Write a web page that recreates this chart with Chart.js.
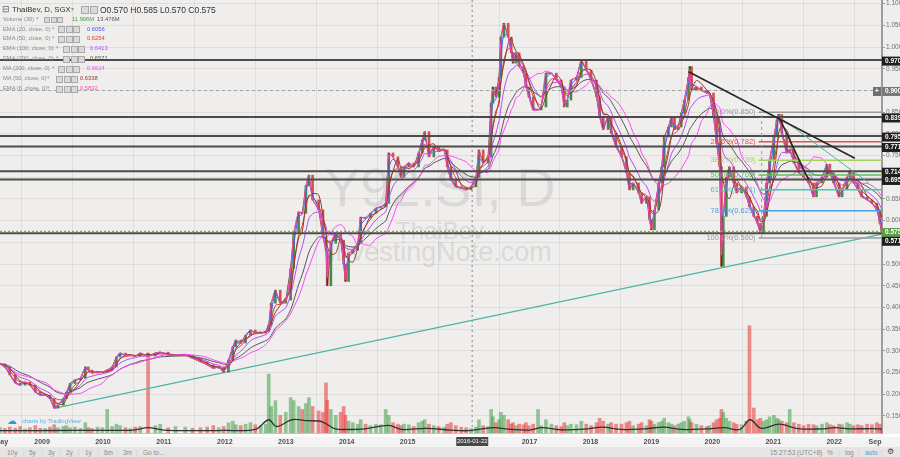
<!DOCTYPE html>
<html>
<head>
<meta charset="utf-8">
<script src="https://cdn.jsdelivr.net/npm/chart.js@4.4.0/dist/chart.umd.min.js"></script>
<style>
  html, body { margin: 0; padding: 0; }
  body { width: 900px; height: 457px; overflow: hidden; position: relative; background: #efeeed;
         font-family: "Liberation Sans", Arial, sans-serif; }
  .abs { position: absolute; white-space: nowrap; }
  #bgWhite { left: 0; top: 434px; width: 900px; height: 3px; background: #fff; }
  #bgAxis { left: 0; top: 437px; width: 900px; height: 10px; background: #f3f3f3; }
  #toolbar { left: 0; top: 447px; width: 900px; height: 10px; background: #e5e5e5; font-size: 6.5px; color: #8c8c8c; }
  #toolbar span { position: absolute; top: 1.5px; }
  #toolbar .sep { color: #cfcfcf; }
  .wm { left: 240px; width: 400px; text-align: center; color: #dad9d8; line-height: 1; }
  #chartBox { left: 0; top: 0; width: 900px; height: 447px; }
  #legend div { position: absolute; white-space: nowrap; line-height: 1; }
  .ic { position: absolute; width: 5px; height: 5px; border: 1px solid #a9a9a9; background: #d9d9d9; }
</style>
</head>
<body>
<div id="bgWhite" class="abs"></div>
<div id="bgAxis" class="abs"></div>
<div class="abs wm" style="top:160px;font-size:54px;">Y92.SI, D</div>
<div class="abs wm" style="top:219px;font-size:24px;">ThaiBev</div>
<div class="abs wm" style="top:239px;font-size:27px;">InvestingNote.com</div>
<div id="chartBox" class="abs"><canvas id="myChart" width="900" height="447"></canvas></div>
<div id="legend" class="abs" style="left:0;top:0;"></div>
<div class="abs" style="left:7px;top:415px;font-size:10px;color:#2f9ae0;">&#9729;</div>
<div class="abs" style="left:22px;top:418px;font-size:6px;color:#5aaee6;">charts by TradingView</div>
<div id="toolbar" class="abs"></div>

<script>
// Daily closes of Y92.SI (decimal year, SGD)
const dates = [
  2008.31, 2008.39, 2008.47, 2008.56, 2008.64, 2008.72, 2008.80, 2008.89, 2008.97, 2009.05,
  2009.13, 2009.20, 2009.26, 2009.35, 2009.40, 2009.46, 2009.54, 2009.63, 2009.71, 2009.76,
  2009.82, 2009.91, 2009.99, 2010.07, 2010.15, 2010.22, 2010.28, 2010.37, 2010.45, 2010.53,
  2010.61, 2010.74, 2010.86, 2010.94, 2011.07, 2011.19, 2011.35, 2011.47, 2011.60, 2011.71,
  2011.81, 2011.90, 2011.98, 2012.06, 2012.13, 2012.18, 2012.26, 2012.34, 2012.42, 2012.50,
  2012.59, 2012.67, 2012.72, 2012.76, 2012.83, 2012.91, 2013.00, 2013.08, 2013.13, 2013.21,
  2013.27, 2013.33, 2013.38, 2013.44, 2013.54, 2013.61, 2013.66, 2013.68, 2013.74, 2013.82,
  2013.90, 2013.95, 2013.98, 2014.03, 2014.10, 2014.18, 2014.23, 2014.31, 2014.39, 2014.48,
  2014.56, 2014.64, 2014.69, 2014.76, 2014.84, 2014.89, 2014.94, 2015.02, 2015.10, 2015.18,
  2015.24, 2015.28, 2015.35, 2015.43, 2015.51, 2015.60, 2015.65, 2015.71, 2015.79, 2015.88,
  2015.96, 2016.04, 2016.12, 2016.17, 2016.24, 2016.32, 2016.37, 2016.40, 2016.45, 2016.50,
  2016.53, 2016.58, 2016.65, 2016.70, 2016.73, 2016.78, 2016.83, 2016.90, 2016.94, 2016.99,
  2017.06, 2017.14, 2017.19, 2017.27, 2017.36, 2017.44, 2017.52, 2017.57, 2017.62, 2017.68,
  2017.77, 2017.85, 2017.93, 2018.01, 2018.10, 2018.15, 2018.21, 2018.29, 2018.34, 2018.42,
  2018.51, 2018.59, 2018.64, 2018.70, 2018.79, 2018.84, 2018.92, 2018.97, 2019.00, 2019.05,
  2019.12, 2019.17, 2019.21, 2019.28, 2019.33, 2019.38, 2019.44, 2019.49, 2019.54, 2019.61,
  2019.63, 2019.66, 2019.74, 2019.82, 2019.91, 2019.95, 2020.02, 2020.07, 2020.12, 2020.15,
  2020.18, 2020.23, 2020.28, 2020.35, 2020.40, 2020.48, 2020.56, 2020.61, 2020.68, 2020.74,
  2020.79, 2020.84, 2020.89, 2020.94, 2021.01, 2021.06, 2021.09, 2021.14, 2021.22, 2021.27,
  2021.34, 2021.42, 2021.50, 2021.58, 2021.66, 2021.71, 2021.80, 2021.88, 2021.93, 2021.99,
  2022.08, 2022.13, 2022.21, 2022.26, 2022.32, 2022.39, 2022.45, 2022.54, 2022.62, 2022.70,
  2022.75, 2022.78
];
const closes = [
  0.270, 0.263, 0.245, 0.226, 0.221, 0.228, 0.221, 0.205, 0.198, 0.198,
  0.190, 0.168, 0.175, 0.190, 0.205, 0.225, 0.233, 0.237, 0.263, 0.256,
  0.249, 0.251, 0.251, 0.256, 0.263, 0.286, 0.295, 0.290, 0.290, 0.288,
  0.295, 0.288, 0.295, 0.297, 0.290, 0.290, 0.290, 0.283, 0.275, 0.268,
  0.260, 0.263, 0.251, 0.279, 0.309, 0.325, 0.318, 0.336, 0.348, 0.341,
  0.341, 0.345, 0.360, 0.410, 0.440, 0.410, 0.417, 0.490, 0.570, 0.620,
  0.617, 0.680, 0.705, 0.648, 0.625, 0.562, 0.532, 0.450, 0.548, 0.571,
  0.555, 0.500, 0.460, 0.525, 0.532, 0.548, 0.608, 0.606, 0.617, 0.629,
  0.632, 0.640, 0.756, 0.747, 0.724, 0.700, 0.724, 0.733, 0.724, 0.756,
  0.786, 0.805, 0.747, 0.770, 0.763, 0.763, 0.724, 0.694, 0.678, 0.675,
  0.671, 0.678, 0.700, 0.763, 0.733, 0.747, 0.871, 0.908, 0.885, 0.930,
  1.023, 1.055, 1.023, 0.987, 0.963, 0.987, 0.955, 0.940, 0.908, 0.885,
  0.855, 0.855, 0.862, 0.940, 0.940, 0.924, 0.908, 0.862, 0.878, 0.924,
  0.930, 0.970, 0.947, 0.924, 0.885, 0.840, 0.810, 0.840, 0.802, 0.770,
  0.747, 0.710, 0.671, 0.687, 0.664, 0.640, 0.655, 0.602, 0.579, 0.625,
  0.687, 0.724, 0.793, 0.816, 0.840, 0.810, 0.816, 0.848, 0.878, 0.930,
  0.955, 0.900, 0.908, 0.900, 0.894, 0.894, 0.840, 0.779, 0.724, 0.495,
  0.610, 0.700, 0.724, 0.687, 0.664, 0.678, 0.655, 0.632, 0.610, 0.594,
  0.570, 0.610, 0.687, 0.740, 0.793, 0.832, 0.845, 0.802, 0.756, 0.763,
  0.733, 0.710, 0.700, 0.687, 0.655, 0.687, 0.700, 0.730, 0.710, 0.687,
  0.655, 0.671, 0.700, 0.715, 0.687, 0.671, 0.655, 0.648, 0.640, 0.625,
  0.594, 0.575
];
// volume in millions of shares
const volumes = [
  18, 15, 20, 16, 22, 14, 18, 25, 16, 15,
  20, 28, 18, 22, 25, 18, 20, 16, 35, 18,
  15, 20, 18, 80, 22, 30, 25, 18, 15, 20,
  22, 270, 25, 30, 18, 22, 20, 16, 18, 20,
  25, 18, 22, 35, 40, 28, 25, 30, 35, 28,
  25, 30, 200, 90, 110, 60, 70, 120, 110, 90,
  80, 100, 120, 90, 75, 70, 170, 110, 80, 60,
  70, 90, 60, 40, 35, 30, 45, 30, 25, 30,
  28, 80, 60, 35, 30, 25, 30, 28, 22, 35,
  40, 45, 30, 25, 22, 20, 30, 35, 25, 20,
  18, 15, 20, 45, 25, 22, 80, 55, 35, 45,
  70, 60, 45, 30, 35, 25, 30, 28, 35, 25,
  30, 80, 25, 45, 30, 25, 22, 35, 25, 30,
  28, 40, 30, 25, 35, 50, 40, 30, 35, 30,
  30, 35, 40, 25, 30, 35, 25, 45, 40, 30,
  35, 40, 50, 35, 30, 25, 30, 35, 40, 55,
  45, 35, 30, 25, 22, 25, 35, 45, 50, 80,
  70, 50, 40, 35, 30, 28, 40, 364, 85, 45,
  50, 40, 45, 55, 60, 50, 45, 40, 35, 80,
  35, 30, 25, 30, 28, 25, 30, 35, 28, 25,
  30, 28, 35, 30, 25, 28, 25, 30, 28, 35,
  30, 12
];
// Volume (30) moving-average line
const volMaDates = [2008.31, 2008.9, 2009.5, 2010.0, 2010.5, 2010.74, 2011.0, 2011.5, 2012.0, 2012.5,
  2012.72, 2012.85, 2013.1, 2013.35, 2013.6, 2013.8, 2014.0, 2014.3, 2014.69, 2014.9,
  2015.3, 2015.7, 2016.0, 2016.4, 2016.7, 2017.0, 2017.2, 2017.5, 2017.9, 2018.2,
  2018.5, 2018.9, 2019.2, 2019.5, 2019.9, 2020.2, 2020.45, 2020.62, 2020.8, 2021.1,
  2021.4, 2021.8, 2022.0, 2022.3, 2022.6, 2022.78];
const volMa = [8, 8, 9, 9, 10, 18, 10, 8, 9, 12,
  45, 22, 45, 42, 38, 15, 12, 14, 26, 12,
  16, 10, 8, 18, 12, 10, 18, 11, 13, 20,
  12, 14, 20, 12, 14, 18, 12, 45, 16, 30,
  15, 14, 18, 14, 15, 13.5];

// axes
const yTicks = [0.15, 0.20, 0.25, 0.30, 0.35, 0.40, 0.45, 0.50, 0.55, 0.60, 0.65, 0.70,
  0.75, 0.80, 0.85, 0.90, 0.95, 1.00, 1.05, 1.10];
const xTicks = [2008.33, 2009, 2010, 2011, 2012, 2013, 2014, 2015, 2016, 2017, 2018, 2019, 2020, 2021, 2022, 2022.67];
const xTickLabels = ['May', '2009', '2010', '2011', '2012', '2013', '2014', '2015', '2016', '2017',
  '2018', '2019', '2020', '2021', '2022', 'Sep'];

// drawn levels and lines
const levels = [0.970, 0.839, 0.795, 0.771, 0.714, 0.695, 0.571];
const lastPrice = 0.575;
const crossPrice = 0.900;
const crossDate = 2016.06;
const fibStart = 2020.76;
const fibRuler = 2020.81;
const fibNames = ['0.0%', '23.6%', '38.2%', '50.0%', '61.8%', '78.6%', '100.0%'];
const fibLevels = [0.850, 0.782, 0.739, 0.705, 0.671, 0.623, 0.560];
const trendDown = [[2019.61, 0.943], [2022.34, 0.744]];
const trendSteep = [[2021.09, 0.840], [2021.58, 0.694]];
const trendTeal = [[2021.09, 0.840], [2022.57, 0.687]];
const trendLong = [[2009.21, 0.168], [2022.78, 0.569]];
const priceTags = [0.970, 0.900, 0.839, 0.795, 0.771, 0.714, 0.695, 0.575, 0.571];

// legend readouts
const ohlc = ['O0.570', 'H0.585', 'L0.570', 'C0.575'];
const volReadout = ['11.906M', '13.476M'];
const maNames = ['EMA (20, close, 0)', 'EMA (50, close, 0)', 'EMA (100, close, 0)', 'EMA (200, close, 0)',
  'MA (200, close, 0)', 'MA (50, close, 0)', 'EMA (6, close, 0)'];
const maReadout = ['0.6056', '0.6254', '0.6413', '0.6571', '0.6624', '0.6338', '0.5832'];
const maKind = ['ema', 'ema', 'ema', 'ema', 'sma', 'sma', 'ema'];
const maSpan = [20, 50, 100, 200, 200, 50, 6];

// styles
const xMin = 2008.31, xMax = 2022.785, yMin = 0.1108, yMax = 1.1085;
const green = 'rgba(46,130,56,0.9)', red = 'rgba(205,55,45,0.85)';
const maColors = ['#4c55ff', '#e23b35', '#b04df2', '#555555', '#ff45ff', '#8d3a2c', '#ff4da6'];
const fibColors = ['#9a9a9a', '#e8504a', '#a6d15a', '#5cbf5c', '#3fcbb4', '#4a9fe0', '#9a9a9a'];
const font = '"Liberation Sans", Arial, sans-serif';

// moving averages of the closes (trading-day spans, 252 days a year)
function ema(span) {
  const tau = (span + 1) / 2 / 252;
  let v = closes[0];
  return closes.map((c, i) => {
    if (i > 0) v += (1 - Math.exp(-(dates[i] - dates[i - 1]) / tau)) * (c - v);
    return { x: dates[i], y: v };
  });
}
function sma(span) {
  const w = span / 252;
  return closes.map((c, i) => {
    let s = 0, n = 0;
    for (let j = i; j >= 0 && dates[i] - dates[j] < w; j--) { s += closes[j]; n++; }
    return { x: dates[i], y: s / n };
  });
}
function seg(p0, p1) { return [{ x: p0[0], y: p0[1] }, { x: p1[0], y: p1[1] }]; }
function flat(v, from) { return seg([from, v], [xMax, v]); }

const isUp = closes.map((c, i) => i === 0 || c >= closes[i - 1]);

const datasets = [];
// volume
datasets.push({
  type: 'bar', yAxisID: 'vol', order: 20, grouped: false, barThickness: 3,
  data: volumes.map((v, i) => ({ x: dates[i], y: v })),
  backgroundColor: isUp.map(u => u ? 'rgba(67,160,71,0.55)' : 'rgba(229,57,53,0.55)')
});
datasets.push({
  type: 'line', yAxisID: 'vol', order: 19, data: volMaDates.map((d, i) => ({ x: d, y: volMa[i] })),
  borderColor: '#333', borderWidth: 1.3, pointRadius: 0, tension: 0.35
});
// long support line
datasets.push({ type: 'line', order: 18, data: seg(...trendLong), borderColor: '#4fb3a5', borderWidth: 1.2, pointRadius: 0 });
// candles (close-to-close bodies) and close line
datasets.push({
  type: 'bar', order: 12, grouped: false, barThickness: 2,
  data: closes.map((c, i) => ({ x: dates[i], y: [i ? closes[i - 1] : c, c] })),
  backgroundColor: isUp.map(u => u ? green : red)
});
datasets.push({ type: 'line', order: 11, data: closes.map((c, i) => ({ x: dates[i], y: c })),
  borderColor: 'rgba(60,48,36,0.85)', borderWidth: 1, pointRadius: 0 });
// moving averages
maSpan.forEach((s, i) => {
  datasets.push({ type: 'line', order: 10 - i * 0.1, data: maKind[i] === 'ema' ? ema(s) : sma(s),
    borderColor: maColors[i], borderWidth: 1, pointRadius: 0, tension: 0.3 });
});
// horizontal levels
levels.forEach(v => datasets.push({ type: 'line', order: 5, data: flat(v, xMin),
  borderColor: '#4b4b4b', borderWidth: 2, pointRadius: 0 }));
datasets.push({ type: 'line', order: 4, data: flat(lastPrice, xMin), borderColor: '#7cb342',
  borderWidth: 1.5, borderDash: [2, 2], pointRadius: 0 });
datasets.push({ type: 'line', order: 4, data: flat(crossPrice, xMin), borderColor: '#a3a3a3',
  borderWidth: 1, borderDash: [3, 3], pointRadius: 0 });
// fibonacci retracement
fibLevels.forEach((v, i) => datasets.push({ type: 'line', order: 3, data: flat(v, fibStart),
  borderColor: fibColors[i], borderWidth: 1.5, pointRadius: 0 }));
datasets.push({ type: 'line', order: 3, data: seg([fibRuler, fibLevels[6]], [fibRuler, fibLevels[0]]),
  borderColor: '#9a9a9a', borderWidth: 1, borderDash: [3, 3], pointRadius: 0 });
// trend lines
datasets.push({ type: 'line', order: 2, data: seg(...trendTeal), borderColor: '#4fb3a5', borderWidth: 1, pointRadius: 0 });
datasets.push({ type: 'line', order: 1, data: seg(...trendDown), borderColor: '#262626', borderWidth: 1.6, pointRadius: 0 });
datasets.push({ type: 'line', order: 1, data: seg(...trendSteep), borderColor: '#262626', borderWidth: 1.6, pointRadius: 0 });

// crosshair, fib labels, axis tags
const decor = {
  id: 'decor',
  beforeDatasetsDraw(chart) {
    const { ctx, chartArea: a, scales: { x } } = chart;
    const cx = x.getPixelForValue(crossDate);
    ctx.save();
    ctx.strokeStyle = '#a8a8a8'; ctx.lineWidth = 1.5; ctx.setLineDash([2, 3]);
    ctx.beginPath(); ctx.moveTo(cx, a.top); ctx.lineTo(cx, a.bottom); ctx.stroke();
    ctx.restore();
  },
  afterDatasetsDraw(chart) {
    const { ctx, scales: { x, y } } = chart;
    ctx.save();
    ctx.font = '7.5px ' + font; ctx.textAlign = 'right'; ctx.textBaseline = 'middle';
    const fx = x.getPixelForValue(fibStart) - 3;
    fibLevels.forEach((v, i) => {
      ctx.fillStyle = fibColors[i];
      ctx.fillText(fibNames[i] + '(' + v.toFixed(3) + ')', fx, y.getPixelForValue(v));
    });
    ctx.restore();
  },
  afterDraw(chart) {
    const { ctx, chartArea: a, scales: { x, y } } = chart;
    ctx.save();
    ctx.textBaseline = 'middle';
    ctx.font = 'bold 6.5px ' + font;
    priceTags.forEach(v => {
      let py = y.getPixelForValue(v) + 1;
      let fill = '#1f1f1f';
      if (v === crossPrice) fill = '#787878';
      if (v === lastPrice) fill = '#5e9e4a';
      if (v === 0.571) py += 7;
      ctx.fillStyle = fill;
      ctx.fillRect(a.right, py - 4.5, 20, 9);
      ctx.fillStyle = '#fff';
      ctx.fillText(v.toFixed(3), a.right + 3, py);
    });
    // crosshair "+" button
    const cy = y.getPixelForValue(crossPrice) + 1;
    ctx.fillStyle = '#6f6f6f';
    ctx.fillRect(a.right - 9, cy - 4.5, 8, 9);
    ctx.fillStyle = '#fff'; ctx.textAlign = 'center';
    ctx.fillText('+', a.right - 5, cy);
    // date tag on the time axis
    const cx = x.getPixelForValue(crossDate);
    ctx.fillStyle = '#474747';
    ctx.fillRect(cx - 16, a.bottom + 4, 32, 9);
    ctx.fillStyle = '#fff'; ctx.font = '6px ' + font;
    ctx.fillText('2016-01-22', cx, a.bottom + 8.5);
    ctx.restore();
  }
};

const ctx = document.getElementById('myChart').getContext('2d');
const chart = new Chart(ctx, {
  type: 'line',
  data: { datasets },
  options: {
    responsive: false,
    animation: false,
    events: [],
    layout: { padding: 0 },
    plugins: { legend: { display: false }, tooltip: { enabled: false } },
    scales: {
      x: {
        type: 'linear', min: xMin, max: xMax, offset: false,
        afterBuildTicks: s => { s.ticks = xTicks.map(v => ({ value: v })); },
        afterFit: s => { s.height = 14; s.paddingLeft = 0; s.paddingRight = 0; },
        ticks: { autoSkip: false, maxRotation: 0, padding: 5, color: '#505050',
          font: { family: font, size: 7, weight: 'bold' },
          callback: (v, i) => xTickLabels[i] },
        grid: { color: 'rgba(0,0,0,0.07)', drawTicks: false },
        border: { color: '#c4c4c4', width: 1 }
      },
      y: {
        position: 'right', min: yMin, max: yMax,
        afterBuildTicks: s => { s.ticks = yTicks.map(v => ({ value: v })); },
        afterFit: s => { s.width = 18; s.paddingTop = 0; s.paddingBottom = 0; },
        ticks: { padding: 1, color: '#6e6e6e', font: { family: font, size: 6.5 },
          callback: v => v.toFixed(3) },
        grid: { color: 'rgba(0,0,0,0.065)', tickLength: 3, tickColor: '#9a9a9a' },
        border: { color: '#9c9c9c', width: 2 }
      },
      vol: { display: false, min: 0, max: 1470 }
    }
  },
  plugins: [decor]
});

// legend block, top left
const legend = document.getElementById('legend');
function put(x, y, html, css) {
  const d = document.createElement('div');
  d.style.left = x + 'px'; d.style.top = y + 'px';
  d.style.cssText += css || '';
  d.innerHTML = html;
  legend.appendChild(d);
  return d;
}
function icons(x, y, n, size) {
  for (let k = 0; k < n; k++) {
    const b = document.createElement('i');
    b.className = 'ic';
    b.style.left = (x + k * (size + 2.5)) + 'px'; b.style.top = (y - size / 2 - 1) + 'px';
    b.style.width = size + 'px'; b.style.height = size + 'px';
    legend.appendChild(b);
  }
}
put(2, 5, '&#8863;', 'font-size:9px;color:#666;');
put(12, 6, 'ThaiBev, D, SGX', 'font-size:7.8px;color:#333;');
put(71, 6, '&#9662;', 'font-size:6px;color:#999;');
icons(81, 10, 2, 6);
put(100, 5.5, ohlc.join(' '), 'font-size:8.5px;color:#333;');

const rowY = [19.8, 29.7, 39.4, 49.3, 59.3, 69.3, 79.3, 89.3];
const iconX = [44, 58, 58, 63, 63, 58, 56, 56];
const valX = [72, 87, 87, 90, 90, 87, 80, 80];
const rowNames = ['Volume (30)'].concat(maNames);
const nameW = [31, 47, 47, 51, 51, 47, 42, 42];
rowNames.forEach((n, r) => {
  const y = rowY[r];
  put(3, y - 3.2, n, 'font-size:5.8px;color:#8a8a8a;');
  put(3 + nameW[r] + 2, y - 3, '&#9662;', 'font-size:4.5px;color:#aaa;');
  icons(iconX[r], y, 3, r === 0 ? 4 : 5);
  if (r === 0) {
    put(valX[r], y - 3.2, volReadout[0], 'font-size:5.8px;color:#43a047;');
    put(97, y - 3.2, volReadout[1], 'font-size:5.8px;color:#555;');
  } else {
    put(valX[r], y - 3.2, maReadout[r - 1], 'font-size:5.8px;color:' + maColors[r - 1] + ';');
  }
});

// bottom toolbar
const toolbar = document.getElementById('toolbar');
const leftItems = [['10y', 7], ['5y', 29], ['3y', 48], ['2y', 66], ['1y', 85], ['6m', 104], ['3m', 123], ['Go to...', 143]];
const sepX = [23, 41, 59, 78, 97, 116, 136, 820, 838, 858, 881];
leftItems.forEach(([t, x]) => { const s = document.createElement('span'); s.textContent = t; s.style.left = x + 'px'; toolbar.appendChild(s); });
sepX.forEach(x => { const s = document.createElement('span'); s.className = 'sep'; s.textContent = '|'; s.style.left = x + 'px'; toolbar.appendChild(s); });
[['15:27:53 (UTC+8)', 770, '#8c8c8c'], ['%', 827, '#8c8c8c'], ['log', 845, '#8c8c8c'], ['auto', 865, '#3ea6e0']]
  .forEach(([t, x, c]) => { const s = document.createElement('span'); s.textContent = t; s.style.left = x + 'px'; s.style.color = c; toolbar.appendChild(s); });
const gear = document.createElement('span');
gear.innerHTML = '&#9881;'; gear.style.left = '887px'; gear.style.top = '0px'; gear.style.fontSize = '8px'; gear.style.color = '#444';
toolbar.appendChild(gear);
</script>
</body>
</html>
